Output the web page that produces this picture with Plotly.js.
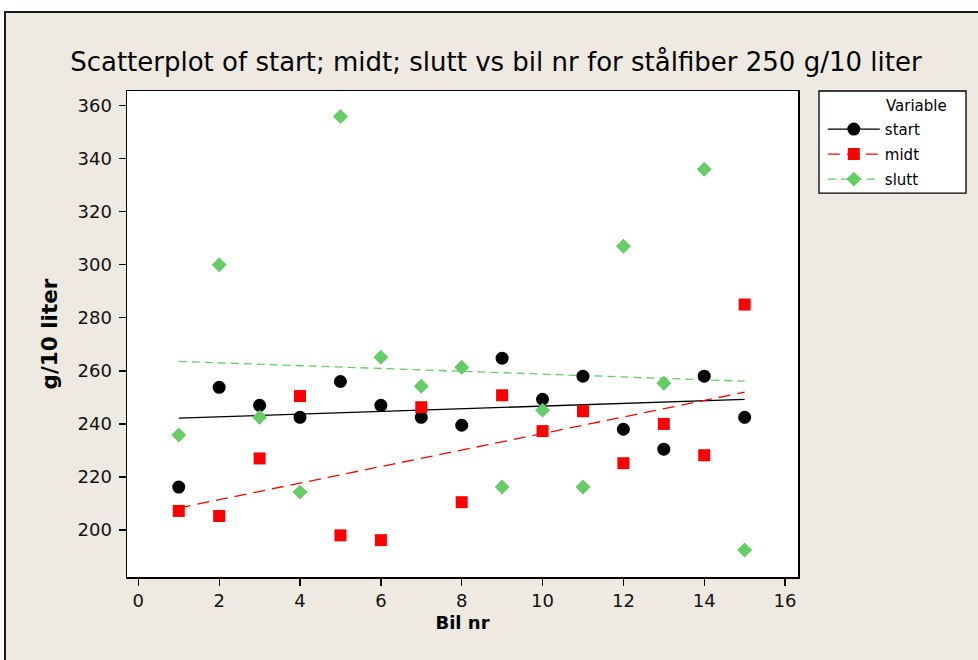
<!DOCTYPE html>
<html>
<head>
<meta charset="utf-8">
<script src="https://cdn.plot.ly/plotly-3.0.1.min.js"></script>
<style>
  html, body { margin: 0; padding: 0; background: #ffffff; width: 978px; height: 660px; overflow: hidden; }
  #frame { position: absolute; left: 4px; top: 11px; width: 990px; height: 670px;
           border-left: 2px solid #1a1a1a; border-top: 2px solid #1a1a1a; background: #eeeae1; }
  #chart { position: absolute; left: 6px; top: 13px; width: 972px; height: 647px; }
</style>
</head>
<body>
<div id="frame"></div>
<div id="chart"></div>
<script>
// Bil nr (car number) and measured fibre content, g/10 liter
const bilNr = [1, 2, 3, 4, 5, 6, 7, 8, 9, 10, 11, 12, 13, 14, 15];
const start = [216.2, 253.8, 247.0, 242.5, 256.0, 247.0, 242.5, 239.5, 264.8, 249.3, 258.0, 238.0, 230.5, 258.0, 242.5];
const midt  = [207.2, 205.3, 227.0, 250.5, 198.0, 196.2, 246.3, 210.5, 250.8, 237.3, 244.8, 225.2, 240.0, 228.2, 285.0];
const slutt = [235.8, 300.0, 242.5, 214.3, 355.9, 265.1, 254.2, 261.4, 216.2, 245.2, 216.2, 307.0, 255.3, 336.0, 192.5];

const seriesNames = ['start', 'midt', 'slutt'];
const xTicks = [0, 2, 4, 6, 8, 10, 12, 14, 16];
const yTicks = [200, 220, 240, 260, 280, 300, 320, 340, 360];

// Least-squares fit, evaluated at each car number
function linearFit(xs, ys) {
  const n = xs.length;
  const mx = xs.reduce((a, b) => a + b, 0) / n;
  const my = ys.reduce((a, b) => a + b, 0) / n;
  let sxy = 0, sxx = 0;
  for (let i = 0; i < n; i++) { sxy += (xs[i] - mx) * (ys[i] - my); sxx += (xs[i] - mx) ** 2; }
  const b = sxy / sxx, a = my - b * mx;
  return xs.map(x => a + b * x);
}

const styles = {
  start: { color: '#000000', symbol: 'circle',  size: 13,   dash: 'solid' },
  midt:  { color: '#ff0000', symbol: 'square',  size: 12,   dash: '12px,7px' },
  slutt: { color: '#66cc66', symbol: 'diamond', size: 11.5, dash: '8px,5px' }
};
const values = { start: start, midt: midt, slutt: slutt };

const traces = [];
seriesNames.forEach(name => {
  const s = styles[name];
  traces.push({
    x: bilNr, y: linearFit(bilNr, values[name]), mode: 'lines', type: 'scatter',
    line: { color: s.color, width: 1.3, dash: s.dash },
    legendgroup: name, showlegend: false, hoverinfo: 'skip'
  });
});
seriesNames.forEach(name => {
  const s = styles[name];
  traces.push({
    x: bilNr, y: values[name], mode: 'markers', type: 'scatter', name: name,
    marker: { color: s.color, symbol: s.symbol, size: s.size, line: { width: 0 } },
    legendgroup: name, showlegend: false
  });
});
// Legend entries: line through marker, as in the key
seriesNames.forEach(name => {
  const s = styles[name];
  traces.push({
    x: [null], y: [null], mode: 'lines+markers', type: 'scatter', name: name,
    line: { color: s.color, width: 1.3, dash: s.dash },
    marker: { color: s.color, symbol: s.symbol, size: s.size, line: { width: 0 } },
    legendgroup: name, showlegend: true
  });
});

const fontFam = '"DejaVu Sans", Verdana, sans-serif';

const layout = {
  width: 972, height: 647,
  paper_bgcolor: '#eeeae1',
  plot_bgcolor: '#ffffff',
  margin: { l: 121, r: 180, t: 78, b: 83, autoexpand: false },
  font: { family: fontFam, color: '#111111' },
  title: {
    text: 'Scatterplot of start; midt; slutt vs bil nr for stålfiber 250 g/10 liter',
    font: { family: fontFam, size: 26, color: '#000000' },
    x: 0.504, xanchor: 'center', xref: 'container', y: 0.925, yanchor: 'middle', yref: 'container'
  },
  xaxis: {
    range: [-0.28, 16.32], tickvals: xTicks, ticktext: xTicks.map(String),
    showgrid: false, zeroline: false,
    showline: true, linecolor: '#000000', linewidth: 1.5, mirror: true,
    ticks: 'outside', ticklen: 7, tickwidth: 1.3, tickcolor: '#000000',
    tickfont: { size: 18, color: '#111111' },
    title: { text: '<b>Bil nr</b>', font: { size: 18, color: '#000000' }, standoff: 6 }
  },
  yaxis: {
    range: [182.3, 365.5], tickvals: yTicks, ticktext: yTicks.map(String),
    showgrid: false, zeroline: false,
    showline: true, linecolor: '#000000', linewidth: 1.5, mirror: true,
    ticks: 'outside', ticklen: 7, tickwidth: 1.3, tickcolor: '#000000',
    tickfont: { size: 18, color: '#111111' }, ticklabelstandoff: 3,
    title: { text: '<b>g/10 liter</b>', font: { size: 21.5, color: '#000000' }, standoff: 14 }
  },
  // Key box and its heading
  shapes: [{
    type: 'rect', xref: 'paper', yref: 'paper', x0: 1.0313, x1: 1.2504, y0: 0.790, y1: 1.0,
    fillcolor: '#ffffff', line: { color: '#000000', width: 1.3 }, layer: 'below'
  }],
  annotations: [{
    text: 'Variable', xref: 'paper', yref: 'paper', x: 1.1759, y: 0.969,
    xanchor: 'center', yanchor: 'middle', showarrow: false,
    font: { family: fontFam, size: 15, color: '#000000' }
  }],
  legend: {
    x: 1.037, xanchor: 'left', y: 0.955, yanchor: 'top',
    bgcolor: 'rgba(0,0,0,0)', borderwidth: 0,
    font: { size: 15, color: '#000000' },
    itemwidth: 52, traceorder: 'grouped', tracegroupgap: 2.5,
    itemclick: false, itemdoubleclick: false
  },
  showlegend: true
};

Plotly.newPlot('chart', traces, layout, { displayModeBar: false, staticPlot: true });
</script>
</body>
</html>
